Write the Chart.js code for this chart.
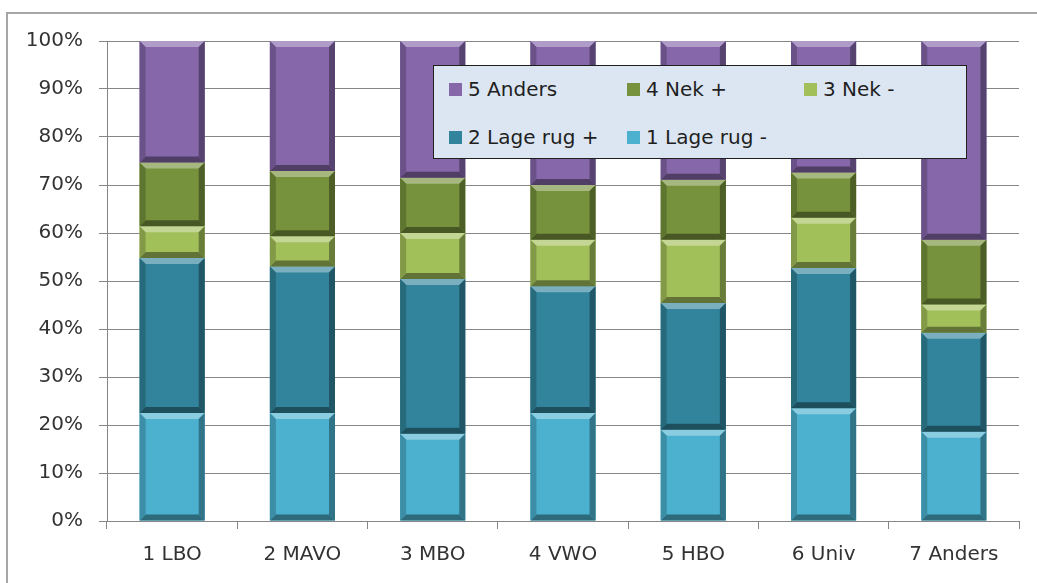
<!DOCTYPE html>
<html>
<head>
<meta charset="utf-8">
<script src="https://cdn.jsdelivr.net/npm/chart.js@4/dist/chart.umd.min.js"></script>
<style>
  html, body { margin: 0; padding: 0; background: #fff; overflow: hidden; }
  #wrap { position: relative; width: 1037px; height: 583px; }
  #frame { position: absolute; left: 6px; top: 12px; width: 1100px; height: 700px; border: 2px solid #a6a6a6; box-sizing: border-box; }
  #legend { position: absolute; left: 433px; top: 65px; width: 534px; height: 94px; box-sizing: border-box;
    background: #dce6f2; border: 1.5px solid #1f1f1f; font-family: "DejaVu Sans", sans-serif; font-size: 20px; color: #1f1f1f; }
  .item { position: absolute; display: flex; align-items: center; white-space: nowrap; }
  .box { width: 13px; height: 13px; margin-right: 6px; }
</style>
</head>
<body>
<div id="wrap">
  <div id="frame"></div>
  <canvas id="chart" width="1037" height="583"></canvas>
  <div id="legend"></div>
</div>
<script>
// Data
const categories = ['1 LBO', '2 MAVO', '3 MBO', '4 VWO', '5 HBO', '6 Univ', '7 Anders'];
const seriesNames = ['1 Lage rug -', '2 Lage rug +', '3 Nek -', '4 Nek +', '5 Anders'];
const lageRugMin = [22.5, 22.5, 18.2, 22.5, 19.0, 23.5, 18.6];
const lageRugPlus = [32.3, 30.5, 32.2, 26.4, 26.4, 29.2, 20.6];
const nekMin = [6.6, 6.3, 9.6, 9.7, 13.2, 10.5, 5.9];
const nekPlus = [13.3, 13.6, 11.5, 11.4, 12.5, 9.4, 13.5];
const anders = [25.3, 27.1, 28.5, 30.0, 28.9, 27.4, 41.4];
const yTicks = [0, 10, 20, 30, 40, 50, 60, 70, 80, 90, 100];

const colors = ['#4bb1cf', '#31849b', '#a2c05a', '#76923c', '#8567aa'];
const seriesData = [lageRugMin, lageRugPlus, nekMin, nekPlus, anders];

// mix a hex colour with white (amt > 0) or black (amt < 0)
function shade(hex, amt) {
  const n = parseInt(hex.slice(1), 16);
  let r = n >> 16, g = (n >> 8) & 255, b = n & 255;
  const t = amt > 0 ? 255 : 0, p = Math.abs(amt);
  r = Math.round(r + (t - r) * p); g = Math.round(g + (t - g) * p); b = Math.round(b + (t - b) * p);
  return `rgb(${r},${g},${b})`;
}

// Excel-like bevel on each bar segment
const bevelPlugin = {
  id: 'bevel',
  afterDatasetsDraw(chart) {
    const ctx = chart.ctx;
    chart.data.datasets.forEach((ds, i) => {
      const meta = chart.getDatasetMeta(i);
      meta.data.forEach(bar => {
        const { x, y, base, width } = bar.getProps(['x', 'y', 'base', 'width'], true);
        const l = x - width / 2, r = x + width / 2, t = Math.min(y, base), btm = Math.max(y, base);
        const b = Math.min(6, (btm - t) / 2);
        const c = ds.backgroundColor;
        const poly = (pts, fill) => {
          ctx.beginPath();
          ctx.moveTo(pts[0][0], pts[0][1]);
          pts.slice(1).forEach(p => ctx.lineTo(p[0], p[1]));
          ctx.closePath();
          ctx.fillStyle = fill;
          ctx.fill();
        };
        ctx.save();
        poly([[l, t], [r, t], [r - b, t + b], [l + b, t + b]], shade(c, 0.35));
        poly([[l, btm], [r, btm], [r - b, btm - b], [l + b, btm - b]], shade(c, -0.4));
        poly([[l, t], [l + b, t + b], [l + b, btm - b], [l, btm]], shade(c, -0.2));
        poly([[r, t], [r - b, t + b], [r - b, btm - b], [r, btm]], shade(c, -0.35));
        ctx.restore();
      });
    });
  }
};

const datasets = seriesNames.map((name, i) => ({
  label: name,
  data: seriesData[i],
  backgroundColor: colors[i],
  borderWidth: 0,
  barPercentage: 0.5,
  categoryPercentage: 1.0
}));

const gridColor = '#868686';

new Chart(document.getElementById('chart'), {
  type: 'bar',
  data: { labels: categories, datasets: datasets },
  options: {
    responsive: false,
    animation: false,
    layout: { padding: { top: 41, right: 18, left: 0, bottom: 0 } },
    plugins: { legend: { display: false }, tooltip: { enabled: false } },
    scales: {
      x: {
        stacked: true,
        afterFit: s => { s.height = 62; },
        grid: { offset: true, drawOnChartArea: false, tickLength: 8, color: gridColor },
        border: { color: gridColor },
        ticks: { color: '#333', font: { family: 'DejaVu Sans', size: 20 }, padding: 14 }
      },
      y: {
        stacked: true,
        min: 0,
        max: 100,
        afterFit: s => { s.width = 107; },
        afterBuildTicks: s => { s.ticks = yTicks.map(v => ({ value: v })); },
        grid: { color: gridColor, tickLength: 8 },
        border: { color: gridColor },
        ticks: { color: '#333', font: { family: 'DejaVu Sans', size: 20 }, padding: 16, callback: v => v + '%' }
      }
    }
  },
  plugins: [bevelPlugin]
});

// Legend inside the plot (reverse order, 3 per row)
const legend = document.getElementById('legend');
const colX = [15, 193, 370];
const rowY = [11, 59];
seriesNames.slice().reverse().forEach((name, k) => {
  const idx = seriesNames.length - 1 - k;
  const item = document.createElement('div');
  item.className = 'item';
  item.style.left = colX[k % 3] + 'px';
  item.style.top = rowY[Math.floor(k / 3)] + 'px';
  item.innerHTML = `<span class="box" style="background:${colors[idx]}"></span>${name}`;
  legend.appendChild(item);
});
</script>
</body>
</html>
